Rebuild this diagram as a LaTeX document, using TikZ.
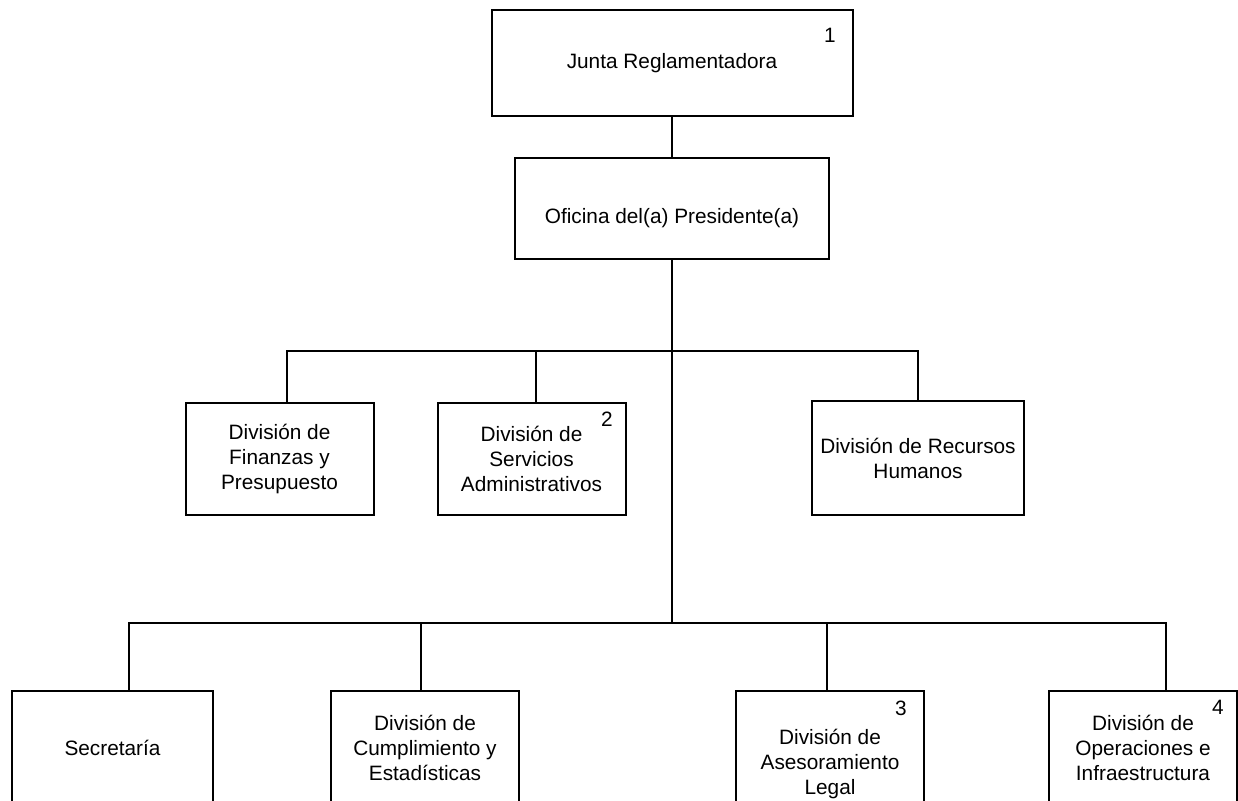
\documentclass[tikz,border=0pt]{standalone}
\usepackage{fontspec}
\setmainfont{Liberation Sans}
\usetikzlibrary{positioning,calc}
\tikzset{
        unitbox/.style={draw, rectangle, align=center, inner sep=1pt, line width=1pt,
                font=\fontsize{10.4}{12.5}\selectfont},
        % Board and president
        box_head/.style={unitbox, minimum width=180.5pt, minimum height=53pt},
        box_office/.style={unitbox, minimum width=157pt, minimum height=50.5pt, text height=18pt, text depth=3pt},
        % Divisions (hang from their top edge)
        box_div/.style={unitbox, anchor=north, minimum width=94pt, minimum height=57pt},
        % Footnote numbers
        box_num/.style={inner sep=0pt, font=\fontsize{10.4}{12.5}\selectfont}
}
\begin{document}
\begin{tikzpicture}[x=0.5pt, y=-0.5pt, line width=1pt]
    \path[use as bounding box, clip] (0,0) rectangle (1238,801);

    \node[box_head] (junta) at (672,63) {Junta Reglamentadora};
    \node[box_office] (office) at (672,209) {Oficina del(a) Presidente(a)};

    \coordinate (hub_mid) at (672,351);
    \coordinate (hub_low) at (672,623);

    % first row of divisions
    \node[box_div, minimum height=56pt] (fin) at (279.5,402) {Divisi\'on de\\Finanzas y\\Presupuesto};
    \node[box_div, minimum height=56pt] (serv) at (531.5,402) {Divisi\'on de\\Servicios\\Administrativos};
    \node[box_div, minimum width=106pt] (rrhh) at (918,400) {Divisi\'on de Recursos\\Humanos};

    % second row of divisions
    \node[box_div, minimum width=100.5pt] (sec) at (112.5,690) {Secretar\'ia};
    \node[box_div] (cump) at (425,690) {Divisi\'on de\\Cumplimiento y\\Estad\'isticas};
    \node[box_div, minimum height=73pt] (legal) at (830,690) {Divisi\'on de\\Asesoramiento\\Legal};
    \node[box_div] (oper) at (1143,690) {Divisi\'on de\\Operaciones e\\Infraestructura};

    \node[box_num] (n1) at (830,35) {1};
    \node[box_num] (n2) at (607,419) {2};
    \node[box_num] (n3) at (901,708) {3};
    \node[box_num] (n4) at (1218,707) {4};

    \draw (junta.south) -- (office.north);
    \draw (office.south) -- (hub_low);
    \draw ([xshift=3.75pt]fin.north) |- (hub_mid) -| (rrhh.north);
    \draw ([xshift=2.25pt]serv.north) |- (hub_mid);
    \draw ([xshift=8pt]sec.north) |- (hub_low) -| ([xshift=11.5pt]oper.north);
    \draw ([xshift=-2pt]cump.north) |- (hub_low);
    \draw ([xshift=-1.5pt]legal.north) |- (hub_low);
\end{tikzpicture}
\end{document}
